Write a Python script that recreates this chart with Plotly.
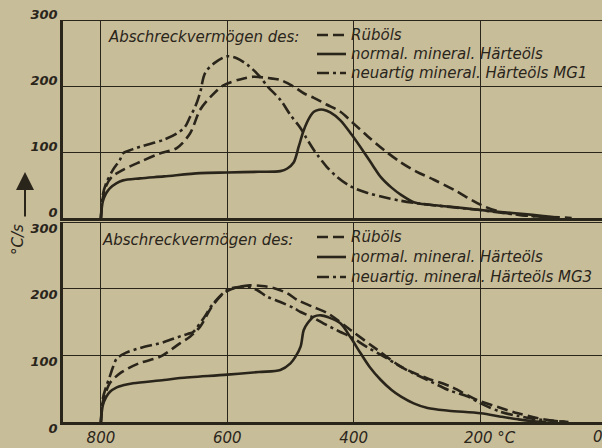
import plotly.graph_objects as go
from plotly.subplots import make_subplots

# ---------------- data (temperature °C -> cooling rate °C/s) ----------------
# top panel
rueboel_top_x = [800, 797, 792, 783, 765, 738, 706, 680, 659, 643, 625, 606, 580, 559, 535, 516, 495, 479, 463, 443, 421, 400, 378, 352, 325, 300, 273, 240, 199, 167, 130, 100, 75, 55]
rueboel_top_y = [0, 30, 48, 62, 73, 85, 98, 106, 128, 164, 185, 201, 210, 214, 212, 209, 199, 189, 182, 172, 161, 143, 124, 103, 84, 70, 58, 42, 20, 9, 4, 2, 1, 0]

normal_top_x = [800, 797, 792, 786, 775, 765, 738, 700, 643, 600, 550, 516, 505, 495, 487, 479, 470, 463, 455, 448, 437, 421, 403, 384, 370, 357, 340, 325, 305, 280, 246, 199, 167, 130, 100, 75]
normal_top_y = [0, 25, 37, 45, 53, 57, 60, 63, 68, 69, 70, 71, 75, 84, 108, 133, 152, 161, 164, 164, 160, 148, 126, 100, 80, 62, 46, 35, 24, 20, 17, 12, 9, 6, 3, 0]

mg1_top_x = [800, 797, 792, 781, 770, 765, 750, 738, 720, 702, 680, 667, 659, 651, 643, 635, 620, 600, 585, 568, 551, 535, 516, 500, 484, 476, 463, 457, 443, 426, 405, 378, 350, 325, 305, 270, 240, 199, 167, 130, 100, 75]
mg1_top_y = [0, 35, 52, 73, 88, 98, 104, 108, 113, 118, 128, 138, 153, 168, 190, 220, 235, 245, 242, 232, 217, 198, 179, 156, 136, 123, 103, 95, 78, 62, 48, 38, 31, 26, 23, 19, 16, 12, 8, 4, 2, 0]

# bottom panel
rueboel_bot_x = [800, 797, 792, 786, 770, 740, 706, 675, 659, 643, 625, 606, 585, 564, 545, 527, 505, 489, 465, 441, 405, 365, 325, 285, 246, 205, 167, 140, 110, 85, 60]
rueboel_bot_y = [0, 30, 45, 58, 73, 88, 98, 118, 128, 143, 172, 193, 202, 205, 204, 201, 193, 183, 173, 163, 138, 110, 83, 66, 53, 33, 21, 13, 6, 2, 0]

normal_bot_x = [800, 797, 792, 786, 775, 765, 749, 700, 675, 600, 550, 516, 500, 492, 484, 479, 473, 463, 452, 440, 421, 405, 389, 375, 357, 340, 325, 305, 283, 250, 199, 167, 140, 115, 95]
normal_bot_y = [0, 25, 37, 45, 52, 55, 58, 63, 66, 71, 75, 78, 88, 98, 113, 138, 148, 158, 160, 157, 148, 127, 103, 83, 63, 48, 38, 28, 21, 17, 13, 8, 4, 1, 0]

mg3_bot_x = [800, 797, 792, 786, 781, 775, 760, 738, 700, 670, 659, 654, 638, 622, 600, 580, 568, 553, 537, 516, 495, 484, 465, 448, 421, 405, 380, 352, 320, 283, 250, 219, 199, 167, 140, 110, 87, 65]
mg3_bot_y = [0, 35, 52, 68, 82, 95, 104, 111, 120, 130, 133, 135, 155, 178, 198, 203, 203, 198, 188, 180, 171, 165, 157, 148, 135, 128, 113, 98, 80, 63, 48, 38, 28, 15, 9, 4, 2, 0]

x_tick_vals = [800, 600, 400, 200]
x_tick_text = ["800", "600", "400", "\u00a0\u00a0\u00a0\u00a0200 °C"]
y_tick_vals = [0, 100, 200, 300]
y_tick_text = ["0", "100", "200", "300"]

legend_names_top = ["Rüböls", "normal. mineral. Härteöls", "neuartig mineral. Härteöls MG1"]
legend_names_bot = ["Rüböls", "normal. mineral. Härteöls", "neuartig. mineral. Härteöls MG3"]
panel_title = "Abschreckvermögen des:"

# ---------------- style ----------------
INK = "#2a251b"
PAPER = "#c8bd99"
FONT = "DejaVu Sans"
dash_rb = "11px,5px"
dash_mg = "12px,4px,3px,4px"
dashes = [dash_rb, "solid", dash_mg]
LW = 2.6

W, H = 602, 448
ML, MR, MT, MB = 63, 0, 20, 26
PW, PH = W - ML - MR, H - MT - MB

def px2paper(px, py):
    return (px - ML) / PW, (H - MB - py) / PH

fig = make_subplots(rows=2, cols=1, shared_xaxes=False)

def add(x, y, name, dash, row):
    fig.add_trace(go.Scatter(
        x=x, y=y, name=name, mode="lines", showlegend=False,
        line=dict(color=INK, width=LW, dash=dash, shape="spline", smoothing=0.9)),
        row=row, col=1)

add(rueboel_top_x, rueboel_top_y, legend_names_top[0], dash_rb, 1)
add(normal_top_x, normal_top_y, legend_names_top[1], "solid", 1)
add(mg1_top_x, mg1_top_y, legend_names_top[2], dash_mg, 1)
add(rueboel_bot_x, rueboel_bot_y, legend_names_bot[0], dash_rb, 2)
add(normal_bot_x, normal_bot_y, legend_names_bot[1], "solid", 2)
add(mg3_bot_x, mg3_bot_y, legend_names_bot[2], dash_mg, 2)

fig.update_layout(
    width=W, height=H,
    margin=dict(l=ML, r=MR, t=MT, b=MB),
    paper_bgcolor=PAPER, plot_bgcolor=PAPER,
    font=dict(family=FONT, color=INK),
    showlegend=False,
)

xaxis_common = dict(
    range=[860, 7], tickvals=x_tick_vals, ticktext=x_tick_text,
    showgrid=True, gridcolor=INK, gridwidth=1,
    showline=True, linecolor=INK, linewidth=2.5,
    ticks="", zeroline=False,
    tickfont=dict(family=FONT, size=15, color=INK, style="italic"),
)
yaxis_common = dict(
    range=[0, 300], tickvals=y_tick_vals, ticktext=y_tick_text,
    showgrid=True, gridcolor=INK, gridwidth=1,
    showline=True, linecolor=INK, linewidth=2.5,
    ticks="", zeroline=False,
    tickfont=dict(family=FONT, size=13, color=INK, style="italic", weight="bold"),
)
top_dom = [(H - MB - 218) / PH, 1]
bot_dom = [0, (H - MB - 222) / PH]
fig.update_layout(
    xaxis=dict(domain=[0, 1], showticklabels=False, anchor="y", **xaxis_common),
    xaxis2=dict(domain=[0, 1], showticklabels=True, anchor="y2", **xaxis_common),
    yaxis=dict(domain=top_dom, anchor="x", ticklabelshift=-6, **yaxis_common),
    yaxis2=dict(domain=bot_dom, anchor="x2", ticklabelshift=6, **yaxis_common),
)

# top frame lines of each panel
for yref in ["y", "y2"]:
    fig.add_shape(type="line", xref="paper", yref=yref, x0=0, x1=1, y0=300, y1=300,
                  line=dict(color=INK, width=2))

txt_font = dict(family=FONT, size=15, color=INK, style="italic")

# panel titles
for (tx, ty) in [(106, 37), (100, 240)]:
    px_, py_ = px2paper(tx, ty)
    fig.add_annotation(xref="paper", yref="paper", x=px_, y=py_, text=panel_title,
                       showarrow=False, xanchor="left", yanchor="middle", font=txt_font)

# legends (samples + labels), one block per panel
def legend_block(names, rows_y):
    for name, dash, ry in zip(names, dashes, rows_y):
        x0, y0 = px2paper(317, ry)
        x1, _ = px2paper(346, ry)
        fig.add_shape(type="line", xref="paper", yref="paper", x0=x0, x1=x1, y0=y0, y1=y0,
                      line=dict(color=INK, width=LW, dash=dash))
        tx, ty = px2paper(349, ry)
        fig.add_annotation(xref="paper", yref="paper", x=tx, y=ty, text=name,
                           showarrow=False, xanchor="left", yanchor="middle", font=txt_font)

legend_block(legend_names_top, [35, 54, 73])
legend_block(legend_names_bot, [237, 257, 277])

# y axis label with arrow
ax_, ay_ = px2paper(25, 172)
fig.add_annotation(xref="paper", yref="paper", x=ax_, y=ay_, ax=0, ay=46,
                   text="", showarrow=True, arrowhead=2, arrowsize=1.8,
                   arrowwidth=2, arrowcolor=INK)
lx, ly = px2paper(18, 240)
fig.add_annotation(xref="paper", yref="paper", x=lx, y=ly, text="°C/s",
                   textangle=-90, showarrow=False, xanchor="center", yanchor="middle",
                   font=dict(family=FONT, size=15, color=INK, style="italic"))
# the "0" tick label at the right edge (partly clipped, as in the original)
zx, zy = px2paper(598, 437)
fig.add_annotation(xref="paper", yref="paper", x=zx, y=zy, xanchor="center", yanchor="middle",
                   text="0", showarrow=False,
                   font=dict(family=FONT, size=15, color=INK, style="italic"))

fig.write_html(
    "out.html",
    config={"displayModeBar": False},
    post_script=f"document.body.style.margin='0';document.body.style.background='{PAPER}';",
)
